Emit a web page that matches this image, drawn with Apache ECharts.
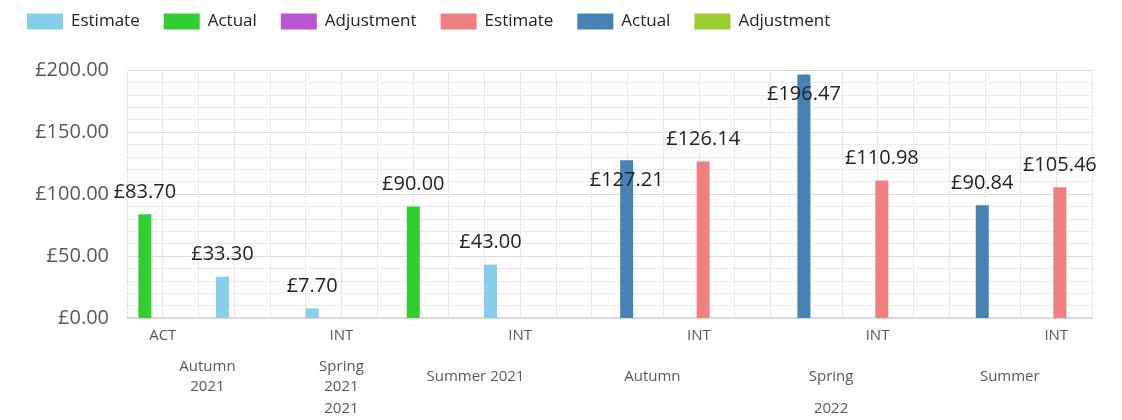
<!DOCTYPE html>
<html>
<head>
<meta charset="utf-8">
<script src="https://cdn.jsdelivr.net/npm/echarts@6/dist/echarts.min.js"></script>
<style>
    html, body { margin: 0; padding: 0; background: #fff; }
    #chart { width: 1122px; height: 420px; }
</style>
</head>
<body>
<div id="chart"></div>
<script>
    // bar positions are on a 0..27 track axis, values in £
    const estimate2021X = [2.67, 5.18, 10.17]
    const estimate2021 = [33.30, 7.70, 43.00]
    const actual2021X = [0.50, 8.01]
    const actual2021 = [83.70, 90.00]
    const estimate2022X = [16.12, 21.12, 26.10]
    const estimate2022 = [126.14, 110.98, 105.46]
    const actual2022X = [13.98, 18.94, 23.93]
    const actual2022 = [127.21, 196.47, 90.84]

    // x axis label rows
    const typeLabels = ['ACT', 'INT', 'INT', 'INT', 'INT', 'INT']
    const typeAt = [1, 6, 11, 16, 21, 26]
    const termLabels = ['Autumn\n2021', 'Spring\n2021', 'Summer 2021', 'Autumn', 'Spring', 'Summer']
    const termAt = [2.25, 6, 9.75, 14.7, 19.7, 24.7]
    const yearLabels = ['2021', '2022']
    const yearAt = [6, 19.7]

    const yTicks = [0, 50, 100, 150, 200]

    const font = "'Open Sans', 'Noto Sans', sans-serif"
    const axisGrey = '#595959'

    function pick(pos, labels) {
        return (v) => {
            let i = pos.findIndex(p => Math.abs(p - v) < 0.01)
            return i < 0 ? '' : labels[i]
        }
    }

    function pairs(xs, ys) {
        return xs.map((x, i) => [x, ys[i]])
    }

    function barSeries(name, color, data) {
        return {
            name: name,
            type: 'bar',
            barWidth: 13,
            barGap: '-100%',
            itemStyle: { color: color },
            label: {
                show: true,
                position: 'top',
                distance: 12,
                fontFamily: font,
                fontSize: 20,
                color: '#222',
                formatter: p => '£' + p.value[1].toFixed(2)
            },
            data: data
        }
    }

    let chart = echarts.init(document.getElementById('chart'))

    const labelAxis = {
        type: 'value', min: 0, max: 27, interval: 0.05,
        position: 'bottom',
        axisLine: { show: false }, axisTick: { show: false },
        splitLine: { show: false }
    }

    let options = {
        animation: false,
        textStyle: { fontFamily: font },
        legend: {
            left: 22,
            top: 8,
            icon: 'rect',
            itemWidth: 36,
            itemHeight: 16,
            itemGap: 24,
            textStyle: { fontSize: 17, color: '#222', padding: [0, 0, 0, 3] },
            formatter: name => name.replace(/ \d{4}$/, '')
        },
        grid: { left: 127, right: 30, top: 70, bottom: 102, outerBoundsMode: 'none' },
        xAxis: [
            {
                type: 'value', min: 0, max: 27, interval: 1,
                position: 'bottom',
                axisLine: { show: true, lineStyle: { color: '#d9d9d9', width: 2 } },
                axisTick: { show: false },
                splitLine: { show: true, lineStyle: { color: '#d6d6d6', type: 'dotted' } },
                axisLabel: {
                    margin: 10, fontSize: 15, color: axisGrey,
                    formatter: pick(typeAt, typeLabels)
                }
            },
            Object.assign({}, labelAxis, {
                axisLabel: {
                    margin: 59, fontSize: 15, color: axisGrey, lineHeight: 20,
                    verticalAlign: 'middle',
                    formatter: pick(termAt, termLabels)
                }
            }),
            Object.assign({}, labelAxis, {
                axisLabel: {
                    margin: 91, fontSize: 15, color: axisGrey,
                    verticalAlign: 'middle',
                    formatter: pick(yearAt, yearLabels)
                }
            })
        ],
        yAxis: {
            type: 'value', min: yTicks[0], max: yTicks[yTicks.length - 1], interval: 50,
            axisLine: { show: false },
            axisTick: { show: false },
            axisLabel: {
                margin: 18, fontSize: 20, color: axisGrey,
                formatter: v => '£' + v.toFixed(2)
            },
            splitLine: { show: true, lineStyle: { color: '#dcdcdc' } },
            minorTick: { show: false, splitNumber: 5 },
            minorSplitLine: { show: true, lineStyle: { color: '#dedede', type: 'dotted' } }
        },
        series: [
            barSeries('Estimate 2021', '#87CEEB', pairs(estimate2021X, estimate2021)),
            barSeries('Actual 2021', '#32CD32', pairs(actual2021X, actual2021)),
            barSeries('Adjustment 2021', '#BA55D3', []),
            barSeries('Estimate 2022', '#F08080', pairs(estimate2022X, estimate2022)),
            barSeries('Actual 2022', '#4682B4', pairs(actual2022X, actual2022).map(d => {
                // tall bars carry their label inside the top
                if (d[1] > 100) {
                    return { value: d, label: { position: 'insideTop', distance: 10 } }
                }
                return d
            })),
            barSeries('Adjustment 2022', '#9ACD32', [])
        ]
    }

    chart.setOption(options)
    window.addEventListener('resize', () => {
        chart.resize()
    })
</script>
</body>
</html>
